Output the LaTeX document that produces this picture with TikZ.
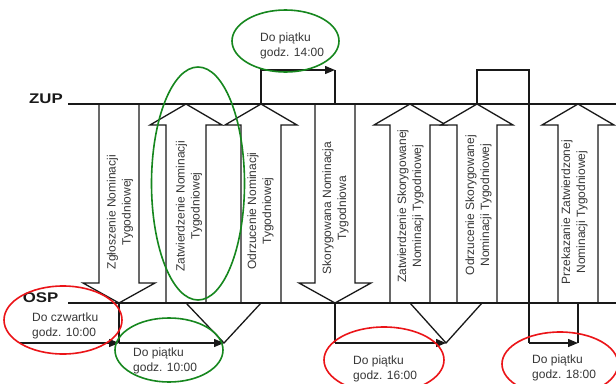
\documentclass[tikz,border=0pt]{standalone}
\usepackage{fontspec}
\setmainfont{Liberation Sans}
\usetikzlibrary{arrows.meta}
\definecolor{dgreen}{RGB}{22,135,30}
\definecolor{dred}{RGB}{235,20,24}
\definecolor{txtgray}{RGB}{55,55,55}
\definecolor{linegray}{RGB}{25,25,25}
\tikzset{
  mainline/.style={line width=1.8pt, draw=linegray},
  blockarrow/.style={line width=1.3pt, draw=linegray, fill=white, line join=miter},
  conn/.style={line width=1.3pt, draw=linegray},
  connarrow/.style={conn, -{Triangle[length=10pt,width=8pt]}},
  ring/.style={line width=1.6pt},
  arrtext/.style={rotate=90, align=center, text=txtgray, inner sep=0pt,
    font=\fontsize{12}{15}\selectfont},
  ovaltext/.style={anchor=west, align=left, text=txtgray, inner sep=0pt,
    font=\fontsize{12}{15}\selectfont},
  lanelabel/.style={inner sep=0pt, text=linegray},
  downarr/.pic={\path[blockarrow] (-20,0)--(-20,179)--(-36,179)--(0,199)--(36,179)--(20,179)--(20,0)--cycle;},
  uparr/.pic={\path[blockarrow] (-20,199)--(-20,21)--(-36,21)--(0,0)--(36,21)--(20,21)--(20,199)--cycle;}
}
\newcommand{\lanefont}[1]{\scalebox{1.2}[1]{\fontsize{14}{14}\selectfont\bfseries #1}}
\begin{document}
\begin{tikzpicture}[x=1pt,y=-1pt]
\useasboundingbox (0,0) rectangle (616,383);
\clip (0,0) rectangle (616,383);
\fill[white] (0,0) rectangle (616,383);

% arrow anchor coordinates: t = on ZUP line, b = on OSP line
\foreach \n/\c in {1/119,2/186,3/261,4/335,5/410,6/477,7/578}{
  \coordinate (t\n) at (\c,104);
  \coordinate (b\n) at (\c,303);
}

% block arrows
\pic at (t1) {downarr};
\pic at (t2) {uparr};
\pic at (t3) {uparr};
\pic at (t4) {downarr};
\pic at (t5) {uparr};
\pic at (t6) {uparr};
\pic at (t7) {uparr};

% lanes
\coordinate (zupL) at (68,104);
\coordinate (zupR) at (616,104);
\coordinate (ospL) at (68,303);
\coordinate (ospR) at (616,303);
\draw[mainline] (zupL) -- (zupR);
\draw[mainline] (ospL) -- (ospR);
\node[lanelabel] (zup) at (46,98.5) {\lanefont{ZUP}};
\node[lanelabel] (osp) at (40.5,297.5) {\lanefont{OSP}};

% arrow texts
\node[arrtext] (a1) at (120,212) {Zgłoszenie Nominacji\\Tygodniowej};
\node[arrtext] (a2) at (189,206) {Zatwierdzenie Nominacji\\Tygodniowej};
\node[arrtext] (a3) at (260.5,211) {Odrzucenie Nominacji\\Tygodniowej};
\node[arrtext] (a4) at (335.5,208) {Skorygowana Nominacja\\Tygodniowa};
\node[arrtext] (a5) at (410.5,206) {Zatwierdzenie Skorygowanej\\Nominacji Tygodniowej};
\node[arrtext] (a6) at (478.5,205) {Odrzucenie Skorygowanej\\Nominacji Tygodniowej};
\node[arrtext] (a7) at (574.5,212) {Przekazanie Zatwierdzonej\\Nominacji Tygodniowej};

% top connectors
\coordinate (k1) at (261,70);
\coordinate (k2) at (335,70);
\coordinate (k3) at (477,70);
\coordinate (k4) at (529,70);
\draw[connarrow] (t3) -- (k1) -- (k2);
\draw[conn] (k2) -- (t4);

% bottom connectors
\coordinate (s0) at (20,343);
\coordinate (j1) at (119,343);
\coordinate (v1) at (224,343);
\draw[conn] (b1) -- (j1);
\draw[connarrow] (s0) -- (j1);
\draw[connarrow] (j1) -- (v1);
\draw[conn] (b2) -- (v1) -- (b3);

\coordinate (j4) at (335,343);
\coordinate (v2) at (446,343);
\coordinate (b6v) at (482,303);
\draw[conn] (b4) -- (j4);
\draw[connarrow] (j4) -- (v2);
\draw[conn] (b5) -- (v2) -- (b6v);

\coordinate (k5) at (529,343);
\coordinate (j7) at (578,343);
\draw[conn] (t6) -- (k3) -- (k4) -- (k5);
\draw[connarrow] (k5) -- (j7);
\draw[conn] (b7) -- (j7);

% oval texts
\node[ovaltext] (d1) at (260,45.5) {Do piątku\\godz. 14:00};
\node[ovaltext] (d2) at (32,325.5) {Do czwartku\\godz. 10:00};
\node[ovaltext] (d3) at (133,361) {Do piątku\\godz. 10:00};
\node[ovaltext] (d4) at (353,368.5) {Do piątku\\godz. 16:00};
\node[ovaltext] (d5) at (532,368) {Do piątku\\godz. 18:00};

% ellipses
\draw[ring, dgreen] (285.5,41) ellipse [x radius=53.5, y radius=31];
\draw[ring, dgreen] (198,183.5) ellipse [x radius=46.5, y radius=116.5];
\draw[ring, dred] (63,320) ellipse [x radius=59, y radius=34];
\draw[ring, dgreen] (169,350) ellipse [x radius=54, y radius=32];
\draw[ring, dred] (384,360) ellipse [x radius=60, y radius=33];
\draw[ring, dred] (560,364) ellipse [x radius=58, y radius=32];
\end{tikzpicture}
\end{document}
